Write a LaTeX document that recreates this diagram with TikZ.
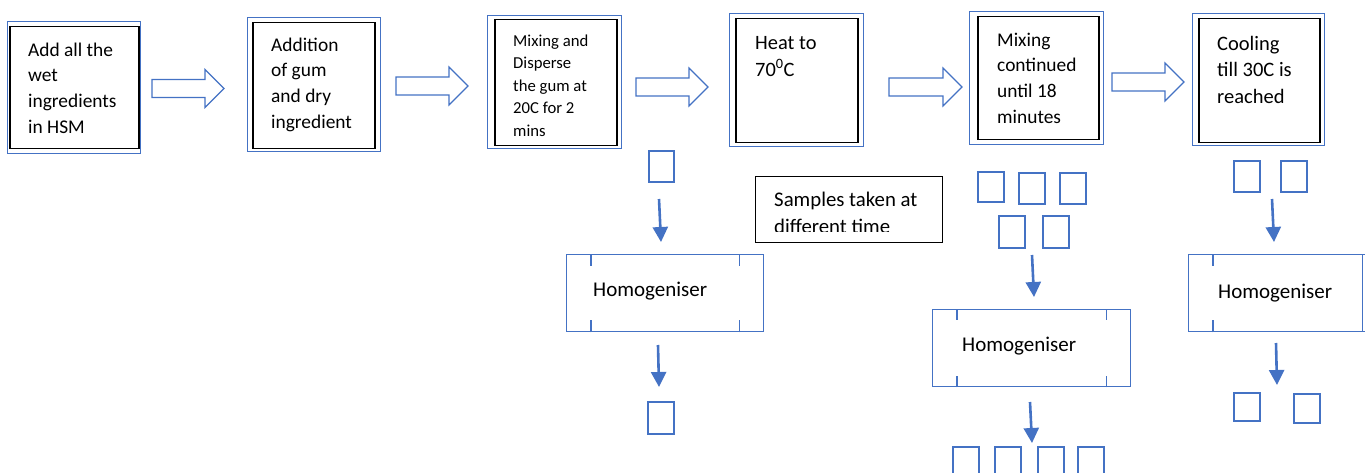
\documentclass[tikz,border=0pt]{standalone}
\usepackage{fontspec}
\setmainfont{Carlito}
\usetikzlibrary{arrows.meta,calc}
\definecolor{msblue}{HTML}{4472C4}

\tikzset{
  outerbox/.style={draw=msblue, line width=1.2pt, inner sep=0pt, anchor=north west},
  innerbox/.style={draw=black, line width=1.5pt, inner sep=0pt, anchor=north west},
  samplebox/.style={draw=msblue, line width=1.7pt, inner sep=0pt, anchor=north west},
  homobox/.style={draw=msblue, line width=1.4pt, inner sep=0pt, anchor=north west},
  tick/.style={draw=msblue, line width=1.4pt},
  notebox/.style={draw=black, line width=1.4pt, inner sep=0pt, anchor=north west},
  steptext/.style={inner sep=0pt, anchor=north west, align=left, text=black},
  labeltext/.style={inner sep=0pt, anchor=base west, text=black,
    font=\fontsize{21}{26}\selectfont},
  blockarrow/.style={draw=msblue, line width=1.2pt, fill=white, line join=miter},
  flowarrow/.style={draw=msblue, line width=2.6pt,
    -{Triangle[width=15pt,length=15pt]}},
}

% rectangle node given its corners in pixel-like units
\newcommand{\rectnode}[6]{%
  \node[#2, minimum width={#5-#3}, minimum height={#6-#4}] (#1) at (#3,#4) {};}

% hollow block arrow from x=#1 to x=#2 on the line y=#3
\newcommand{\blockarr}[3]{%
  \draw[blockarrow] (#1,{#3-9}) -- ({#2-19},{#3-9}) -- ({#2-19},{#3-19})
    -- (#2,#3) -- ({#2-19},{#3+19}) -- ({#2-19},{#3+9}) -- (#1,{#3+9}) -- cycle;}

\begin{document}
\begin{tikzpicture}[x=1pt, y=-1pt]
  \useasboundingbox (0,0) rectangle (1365,473);
  \clip (0,0) rectangle (1365,473);

  % ---- process steps (double frame: blue outside, black inside) ----
  \rectnode{o1}{outerbox}{7}{21}{140}{153}
  \rectnode{b1}{innerbox}{9}{26}{138}{148}
  \node[steptext, font=\fontsize{19.4}{25.6}\selectfont] (t1) at (28,38.1)
    {\strut Add all the\\wet\\ingredients\\in HSM};

  \rectnode{o2}{outerbox}{247}{17}{380}{151}
  \rectnode{b2}{innerbox}{252}{22}{374}{148}
  \node[steptext, font=\fontsize{19.4}{25.7}\selectfont] (t2) at (271,33)
    {\strut Addition\\of gum\\and dry\\ingredient};

  \rectnode{o3}{outerbox}{487}{15}{621}{148}
  \rectnode{b3}{innerbox}{494}{19}{616}{145}
  \node[steptext, font=\fontsize{16.7}{22.5}\selectfont] (t3) at (513,30.3)
    {\strut Mixing and\\Disperse\\the gum at\\20C for 2\\mins};

  \rectnode{o4}{outerbox}{729}{13}{863}{146}
  \rectnode{b4}{innerbox}{735}{18}{857}{142}
  \node[steptext, font=\fontsize{20.4}{27}\selectfont] (t4) at (755,30.1)
    {\strut Heat to\\70\textsuperscript{0}C};

  \rectnode{o5}{outerbox}{969}{11}{1103}{144}
  \rectnode{b5}{innerbox}{977}{16}{1098}{139}
  \node[steptext, font=\fontsize{19.4}{25.6}\selectfont] (t5) at (997,28.1)
    {\strut Mixing\\continued\\until 18\\minutes};

  \rectnode{o6}{outerbox}{1192}{13}{1324}{145}
  \rectnode{b6}{innerbox}{1198}{18}{1319}{142}
  \node[steptext, font=\fontsize{20.5}{26.5}\selectfont] (t6) at (1217,31.5)
    {\strut Cooling\\till 30C is\\reached};

  % ---- block arrows between the steps ----
  \blockarr{152}{224}{88.5}
  \blockarr{396}{468}{86}
  \blockarr{636}{708}{87}
  \blockarr{889}{962}{87}
  \blockarr{1112}{1184}{82}

  % ---- note (its second line is cut off by the text area) ----
  \rectnode{note}{notebox}{755}{176}{942}{242}
  \begin{scope}
    \clip (755,176) rectangle (942,231.5);
    \node[steptext, font=\fontsize{20.8}{27}\selectfont] (notetext) at (774,187.6)
      {\strut Samples taken at\\different time};
  \end{scope}

  % ---- line under step 3 ----
  \rectnode{s1}{samplebox}{648}{150}{673}{181}
  \coordinate (a1s) at (659,199);
  \coordinate (a1e) at (661,242);
  \draw[flowarrow] (a1s) -- (a1e);
  \rectnode{h1}{homobox}{566}{254}{763}{331}
  \draw[tick] ($(h1.north west)+(25,0)$) -- ++(0,12);
  \draw[tick] ($(h1.north east)+(-25,0)$) -- ++(0,12);
  \draw[tick] ($(h1.south west)+(25,0)$) -- ++(0,-12);
  \draw[tick] ($(h1.south east)+(-25,0)$) -- ++(0,-12);
  \node[labeltext] (h1t) at (593,296) {Homogeniser};
  \coordinate (a2s) at (658,345);
  \coordinate (a2e) at (659,387);
  \draw[flowarrow] (a2s) -- (a2e);
  \rectnode{s2}{samplebox}{647}{401}{673}{433}

  % ---- line under step 5 ----
  \rectnode{s3}{samplebox}{977}{171}{1003}{201}
  \rectnode{s4}{samplebox}{1018}{172}{1044}{203}
  \rectnode{s5}{samplebox}{1059}{172}{1085}{203}
  \rectnode{s6}{samplebox}{998}{215}{1024}{247}
  \rectnode{s7}{samplebox}{1042}{215}{1068}{247}
  \coordinate (a3s) at (1032,255);
  \coordinate (a3e) at (1034,297);
  \draw[flowarrow] (a3s) -- (a3e);
  \rectnode{h2}{homobox}{932}{309}{1130}{386}
  \draw[tick] ($(h2.north west)+(25,0)$) -- ++(0,11);
  \draw[tick] ($(h2.north east)+(-25,0)$) -- ++(0,11);
  \draw[tick] ($(h2.south west)+(25,0)$) -- ++(0,-11);
  \draw[tick] ($(h2.south east)+(-25,0)$) -- ++(0,-11);
  \node[labeltext] (h2t) at (962,351) {Homogeniser};
  \coordinate (a4s) at (1030,402);
  \coordinate (a4e) at (1032,443);
  \draw[flowarrow] (a4s) -- (a4e);
  \rectnode{s8}{samplebox}{952}{446}{978}{482}
  \rectnode{s9}{samplebox}{994}{446}{1020}{482}
  \rectnode{s10}{samplebox}{1037}{446}{1063}{482}
  \rectnode{s11}{samplebox}{1077}{446}{1103}{482}

  % ---- line under step 6 ----
  \rectnode{s12}{samplebox}{1233}{160}{1259}{191}
  \rectnode{s13}{samplebox}{1280}{160}{1306}{191}
  \coordinate (a5s) at (1272,199);
  \coordinate (a5e) at (1274,242);
  \draw[flowarrow] (a5s) -- (a5e);
  \rectnode{h3}{homobox}{1188}{254}{1386}{331}
  \draw[tick] ($(h3.north west)+(25,0)$) -- ++(0,12);
  \draw[tick] ($(h3.south west)+(25,0)$) -- ++(0,-12);
  \draw[tick] ($(h3.north east)+(-25,0)$) -- ($(h3.south east)+(-25,0)$);
  \node[labeltext] (h3t) at (1218,298) {Homogeniser};
  \coordinate (a6s) at (1276,343);
  \coordinate (a6e) at (1277,385);
  \draw[flowarrow] (a6s) -- (a6e);
  \rectnode{s14}{samplebox}{1233}{392}{1259}{420}
  \rectnode{s15}{samplebox}{1293}{393}{1319}{422}
\end{tikzpicture}
\end{document}
